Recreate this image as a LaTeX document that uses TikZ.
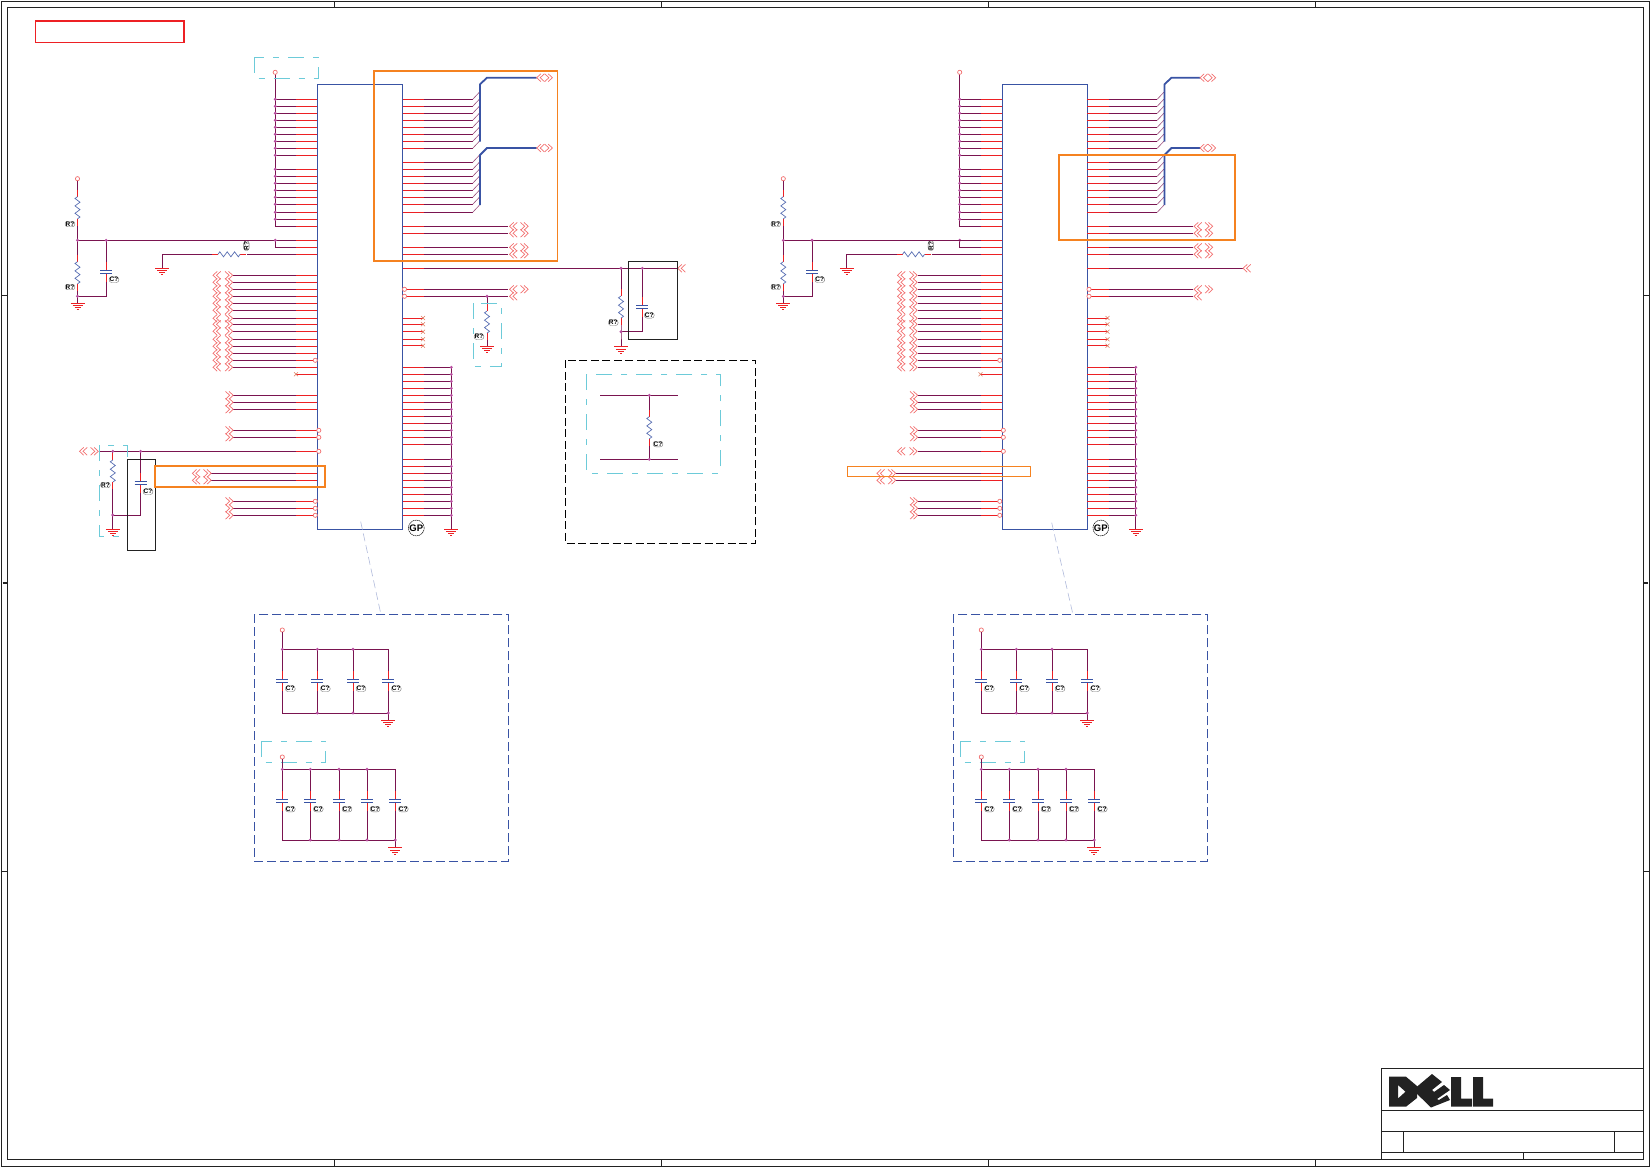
\documentclass[tikz,border=0pt]{standalone}
\usepackage{fontspec}
\setmainfont{Liberation Sans}
\definecolor{netpurple}{HTML}{7A1450}
\definecolor{pinred}{HTML}{ED2024}
\definecolor{partblue}{HTML}{3953A4}
\definecolor{noteteal}{HTML}{6DCBD9}
\definecolor{markorange}{HTML}{F58220}
\definecolor{dotpink}{HTML}{B84FA0}
\definecolor{chevpink}{HTML}{F26F6F}
\definecolor{framegrey}{HTML}{222222}
\tikzset{
  wire/.style={draw=netpurple,line width=.9pt},
  pinwire/.style={draw=pinred,line width=.9pt},
  chipbox/.style={draw=partblue,line width=.9pt,inner sep=0pt,outer sep=0pt,
    minimum width=85.1pt,minimum height=445pt},
  busline/.style={draw=partblue,line width=1.8pt},
  entry/.style={draw=netpurple!75,line width=.6pt},
  tealbox/.style={draw=noteteal,line width=.8pt,dash pattern=on 16pt off 9pt on 6pt off 9pt},
  bluebox/.style={draw=partblue,line width=.9pt,dash pattern=on 9pt off 4pt},
  blackbox/.style={draw=black,line width=.9pt,dash pattern=on 8pt off 3.5pt},
  orangebox/.style={draw=markorange,line width=1.8pt},
  tag/.style={font=\fontsize{6.5}{6.5}\selectfont\bfseries,fill=white,draw=black!55,
    line width=.4pt,rounded corners=2.5pt,inner sep=.5pt},
  gptag/.style={font=\fontsize{9.5}{9.5}\selectfont\bfseries,circle,draw=black,
    dash pattern=on 1.5pt off .6pt,line width=.5pt,inner sep=.2pt,minimum size=13pt},
  pics/gndsym/.style={code={
    \draw[pinred,line width=.8pt] (-7,0) -- (7,0) (-5,2.3) -- (5,2.3) (-3,4.2) -- (3,4.2) (-1,6.2) -- (1,6.2);
  }},
  pics/chevl/.style={code={
    \draw[chevpink,line width=.7pt] (4.2,-3.9) -- (0,0) -- (4.2,3.9) (7.7,-3.9) -- (3.5,0) -- (7.7,3.9);
  }},
  pics/chevr/.style={code={
    \draw[chevpink,line width=.7pt] (0,-3.9) -- (4.2,0) -- (0,3.9) (3.5,-3.9) -- (7.7,0) -- (3.5,3.9);
  }},
  pics/vres/.style={code={
    \draw[pinred,line width=.9pt] (0,-7) -- (0,0) (0,22) -- (0,29);
    \draw[partblue!85,line width=.7pt] (0,0) -- ++(-2.5,1.8) -- ++(5,3.7) -- ++(-5,3.7) -- ++(5,3.7)
      -- ++(-5,3.7) -- ++(5,3.7) -- ++(-2.5,1.8);
  }},
  pics/hres/.style={code={
    \draw[pinred,line width=.9pt] (-6,0) -- (0,0) (22,0) -- (28,0);
    \draw[partblue!85,line width=.7pt] (0,0) -- ++(1.8,-2.5) -- ++(3.7,5) -- ++(3.7,-5) -- ++(3.7,5)
      -- ++(3.7,-5) -- ++(3.7,5) -- ++(1.8,-2.5);
  }},
  pics/capv/.style={code={
    \draw[pinred,line width=.9pt] (0,-10) -- (0,-1.5) (0,1.5) -- (0,10);
    \draw[partblue,line width=.9pt] (-6,-1.5) -- (6,-1.5) (-6,1.5) -- (6,1.5);
  }},
}
\newcommand{\netdot}[1]{\fill[dotpink] (#1) circle (1.6);}
\newcommand{\opendot}[1]{\draw[chevpink,fill=white,line width=.7pt] (#1) circle (2.1);}
\newcommand{\ncmark}[1]{\draw[chevpink!60!brown,line width=.5pt] (#1) ++(-2,-2) -- ++(4,4) ++(-4,0) -- ++(4,-4);}
% chip, pins and rails of one half: #1 end of bus line, #2 end of long net
\newcommand{\chippart}[2]{
  \node[chipbox] (chip) at (360,306.8) {};
  \node[gptag] (gp) at (416.3,528) {GP};
  % left pins on the supply rail
  \draw[wire] (275.2,74.2) -- (275.2,226.3) -- (296,226.3);
  \opendot{275.2,72.3}
  \foreach \y in {99.3,106.3,113.3,120.3,127.3,134.3,141.3,148.3,155.3,169.3,176.3,183.3,190.3,197.3,204.3,212.3,219.3}{
    \draw[wire] (275.2,\y) -- (296,\y);
    \netdot{275.2,\y}
  }
  \foreach \y in {99.3,106.3,113.3,120.3,127.3,134.3,141.3,148.3,155.3,169.3,176.3,183.3,190.3,197.3,204.3,212.3,219.3,226.3,240.3,247.3,254.3,374.3}{
    \draw[pinwire] (296,\y) -- (chip.west |- 0,\y);
  }
  \draw[wire] (246.4,240.3) -- (296,240.3);
  \draw[wire] (275.2,240.3) -- (275.2,247.3) -- (296,247.3);
  \netdot{275.2,240.3}
  \draw[wire] (247,254.3) -- (296,254.3);
  \node[tag,rotate=90] (rs) at (246.4,245.7) {R?};
  \draw[wire] (162.4,268) -- (162.4,254.3) -- (212,254.3);
  \pic at (218,254.3) {hres};
  \pic at (162.4,268) {gndsym};
  % left pins with connectors
  \foreach \y in {275.3,282.3,289.3,296.3,303.3,310.3,318.3,324.3,331.3,339.3,346.3,353.3,360.3,367.3}{
    \draw[wire] (233,\y) -- (296,\y);
    \draw[pinwire] (296,\y) -- (chip.west |- 0,\y);
    \pic at (213,\y) {chevl};
    \pic at (225,\y) {chevr};
  }
  \foreach \y in {395.3,402.3,409.3,430.3,437.3,501.3,508.3,515.3}{
    \draw[wire] (233,\y) -- (296,\y);
    \draw[pinwire] (296,\y) -- (chip.west |- 0,\y);
    \pic at (225.5,\y) {chevr};
  }
  \foreach \y in {473.3,480.3}{
    \draw[wire] (211.4,\y) -- (296,\y);
    \draw[pinwire] (296,\y) -- (chip.west |- 0,\y);
    \pic at (192.4,\y) {chevl};
    \pic at (203.5,\y) {chevr};
  }
  \draw[wire] (233,451.3) -- (296,451.3);
  \draw[pinwire] (296,451.3) -- (chip.west |- 0,451.3);
  \foreach \y in {360.3,501.3,508.3,515.3}{ \opendot{315.3,\y} }
  \foreach \y in {430.3,437.3,451.3}{ \opendot{318.8,\y} }
  \ncmark{296,374.3}
  % right pins into the two buses
  \foreach \y in {99.3,106.3,113.3,120.3,127.3,134.3,141.3,148.3,162.3,169.3,176.3,183.3,190.3,197.3,204.3,212.3}{
    \draw[pinwire] (chip.east |- 0,\y) -- (424,\y);
    \draw[wire] (424,\y) -- (472.7,\y);
    \draw[entry] (472.7,\y) -- ++(6.6,-7);
  }
  \draw[busline] (480,141.7) -- (480,84.3) -- (487,77.7) -- (#1,77.7);
  \draw[busline] (480,205) -- (480,155) -- (487,148) -- (#1,148);
  \foreach \y in {77.7,148}{
    \pic at (#1,\y) {chevl};
    \pic at (#1+8,\y) {chevr};
  }
  % right pins with connectors
  \foreach \y in {226.3,233.3,247.3,254.3,289.3,296.3}{
    \draw[pinwire] (chip.east |- 0,\y) -- (424,\y);
    \draw[wire] (424,\y) -- (508.3,\y);
    \pic at (509.5,\y) {chevl};
  }
  \foreach \y in {226.3,233.3,247.3,254.3,289.3}{ \pic at (520.5,\y) {chevr}; }
  \foreach \y in {289.3,296.3}{ \opendot{404.5,\y} }
  \draw[pinwire] (chip.east |- 0,268.3) -- (424,268.3);
  \draw[wire] (424,268.3) -- (#2,268.3);
  \pic at (#2,268.3) {chevl};
  % not connected pins
  \foreach \y in {318,324.3,331.7,339.3,345.7}{
    \draw[pinwire] (chip.east |- 0,\y) -- (423,\y);
    \ncmark{423,\y}
  }
  % ground pins
  \draw[wire] (451.3,367.3) -- (451.3,529);
  \foreach \y in {367.3,374.3,381.3,388.3,395.3,402.3,409.3,416.3,423.3,430.3,437.3,444.3,459.3,466.3,473.3,480.3,487.3,494.3,501.3,508.3,515.3}{
    \draw[pinwire] (chip.east |- 0,\y) -- (424,\y);
    \draw[wire] (424,\y) -- (451.3,\y);
    \netdot{451.3,\y}
  }
  \pic at (451.3,529) {gndsym};
}
% divider on the reference pin
\newcommand{\dividerpart}{
  \coordinate (vref) at (77.5,178.7);
  \coordinate (rmid) at (77.5,240.3);
  \coordinate (rlow) at (77.5,296.3);
  \coordinate (cpin) at (106.2,240.3);
  \coordinate (cgnd) at (106.2,296.3);
  \opendot{vref}
  \draw[wire] (77.5,180.6) -- (77.5,190);
  \draw[wire] (77.5,225) -- (rmid) -- (77.5,255);
  \draw[wire] (77.5,290) -- (rlow) -- (77.5,303.3);
  \draw[wire] (rmid) -- (270,240.3);
  \draw[wire] (cpin) -- (106.2,262) (106.2,282) -- (cgnd) -- (rlow);
  \pic at (77.5,196.7) {vres};
  \pic at (77.5,261.7) {vres};
  \pic at (106.2,271.8) {capv};
  \pic at (77.5,303.3) {gndsym};
  \netdot{rmid}
  \netdot{rlow}
  \netdot{cpin}
  \node[tag] (ra) at (70,224) {R?};
  \node[tag] (rb) at (70,287) {R?};
  \node[tag] (ca) at (114,279.7) {C?};
}
% decoupling block below the chip
\newcommand{\capblock}{
  \draw[bluebox] (254.3,614.3) rectangle (508.3,861.3);
  \draw[tealbox] (261.7,741.3) rectangle (325.7,762.3);
  \opendot{282.3,630}
  \draw[wire] (282.3,632) -- (282.3,649.3) -- (388.3,649.3);
  \draw[wire] (282.3,713.3) -- (388.3,713.3) -- (388.3,720.3);
  \foreach \x [count=\n] in {282.3,317.3,353,388.3}{
    \draw[wire] (\x,649.3) -- (\x,671) (\x,691) -- (\x,713.3);
    \pic at (\x,680.8) {capv};
    \node[tag] (cu\n) at (\x+8,688.7) {C?};
  }
  \foreach \x in {282.3,317.3,353}{ \netdot{\x,649.3} }
  \foreach \x in {317.3,353,388.3}{ \netdot{\x,713} }
  \pic at (388.3,720.3) {gndsym};
  \opendot{282.3,757}
  \draw[wire] (282.3,759) -- (282.3,769.3) -- (395.3,769.3);
  \draw[wire] (282.3,840) -- (395.3,840) -- (395.3,847.7);
  \foreach \x [count=\n] in {282.3,310.3,339,367,395.3}{
    \draw[wire] (\x,769.3) -- (\x,791) (\x,811) -- (\x,840);
    \pic at (\x,800.8) {capv};
    \node[tag] (cv\n) at (\x+8,809) {C?};
  }
  \foreach \x in {282.3,310.3,339,367}{ \netdot{\x,769.3} }
  \foreach \x in {310.3,339,367,395.3}{ \netdot{\x,840} }
  \pic at (395.3,847.7) {gndsym};
}
\begin{document}
\begin{tikzpicture}[x=1pt,y=-1pt]
  \useasboundingbox (0,0) rectangle (1650,1167);
  % sheet frame
  \draw[framegrey,line width=1pt] (1,1) rectangle (1649,1166);
  \draw[framegrey,line width=1pt] (7.4,7.3) rectangle (1643,1159.5);
  \foreach \x in {334.6,661.4,988,1315}{
    \draw[framegrey,line width=.8pt] (\x,1) -- (\x,7.3) (\x,1159.5) -- (\x,1166);
  }
  \foreach \y in {295.7,871}{
    \draw[framegrey,line width=.8pt] (1,\y) -- (7.4,\y) (1643,\y) -- (1649,\y);
  }
  \draw[framegrey,line width=1.4pt] (2.5,583) -- (7.4,583) (1643,583) -- (1647.5,583);
  \draw[pinred,line width=1.6pt] (35.5,20.7) rectangle (184,42.3);

  % left half
  \begin{scope}[name prefix=a-]
    \chippart{536.7}{677.7}
    \dividerpart
    \capblock
  \end{scope}
  \draw[tealbox] (254.5,57.3) rectangle (318,78.3);
  \draw[orangebox] (373.7,70.7) rectangle (557.4,260.7);
  % net with the pull down and the filter
  \coordinate (nmid) at (621,268.3);
  \coordinate (nlow) at (621,331.7);
  \coordinate (cmid) at (642.3,268.3);
  \coordinate (clow) at (642.3,331.7);
  \draw[wire] (nmid) -- (621,289) (621,325) -- (nlow) -- (621,346.7);
  \draw[wire] (cmid) -- (642.3,297) (642.3,317) -- (clow) -- (nlow);
  \pic at (621,296) {vres};
  \pic at (642.3,307) {capv};
  \pic at (621,346.7) {gndsym};
  \netdot{nmid}
  \netdot{nlow}
  \netdot{cmid}
  \node[tag] (rn) at (613.3,322.7) {R?};
  \node[tag] (cn) at (649.3,315.3) {C?};
  \draw[framegrey,line width=.9pt] (628.3,261.3) rectangle (677.3,339.3);
  % pull down on the lower net
  \coordinate (pmid) at (487,296.3);
  \draw[wire] (pmid) -- (487,304) (487,335) -- (487,346);
  \pic at (487,311) {vres};
  \pic at (487,346) {gndsym};
  \netdot{pmid}
  \node[tag] (rp) at (479,336.7) {R?};
  \draw[tealbox] (473.3,303.3) rectangle (501.7,366.7);
  % detail in the dashed frame
  \draw[blackbox] (565.7,360.3) rectangle (755.7,543.3);
  \draw[tealbox] (586.3,374.3) rectangle (720.3,473.3);
  \coordinate (dtop) at (649.3,395.3);
  \coordinate (dbot) at (649.3,459.3);
  \draw[wire] (600,395.3) -- (677.7,395.3);
  \draw[wire] (600,459.3) -- (677.7,459.3);
  \draw[wire] (dtop) -- (649.3,410) (649.3,444) -- (dbot);
  \pic at (649.3,416.7) {vres};
  \netdot{dtop}
  \netdot{dbot}
  \node[tag] (rd) at (658,444) {C?};
  % reset net at the left
  \coordinate (lnet) at (100,451.3);
  \coordinate (lres) at (112.8,451.3);
  \coordinate (lcap) at (140.6,451.3);
  \coordinate (lgnd) at (112.8,515);
  \coordinate (lcgnd) at (140.6,515);
  \draw[wire] (lnet) -- (296,451.3);
  \draw[wire] (lres) -- (112.8,453) (112.8,487) -- (lgnd) -- (112.8,529.3);
  \draw[wire] (lcap) -- (140.6,473) (140.6,493) -- (lcgnd) -- (lgnd);
  \pic at (112.8,460) {vres};
  \pic at (140.6,483.3) {capv};
  \pic at (112.8,529.3) {gndsym};
  \pic at (79.5,451.3) {chevl};
  \pic at (90.6,451.3) {chevr};
  \netdot{lres}
  \netdot{lcap}
  \netdot{lgnd}
  \node[tag] (rl) at (105.4,485) {R?};
  \node[tag] (cl) at (148,491.7) {C?};
  \draw[tealbox] (99,445.3) rectangle (127.6,536.7);
  \draw[framegrey,line width=.9pt] (127.3,459.3) rectangle (155.8,550.3);
  \draw[orangebox] (154.6,466) rectangle (324.8,486.7);
  \draw[partblue!40,line width=.6pt,dash pattern=on 8pt off 4pt] (360.7,521.7) -- (380.7,613.3);

  % right half
  \begin{scope}[xshift=684.5pt,name prefix=b-]
    \chippart{515.5}{558.5}
    \pic at (213,451.3) {chevl};
    \pic at (225,451.3) {chevr};
  \end{scope}
  \begin{scope}[xshift=705.8pt,name prefix=c-]
    \dividerpart
  \end{scope}
  \begin{scope}[xshift=699pt,name prefix=d-]
    \capblock
  \end{scope}
  \draw[orangebox] (1059,155) rectangle (1235,240);
  \draw[markorange,line width=.9pt] (847.3,466.7) rectangle (1030,476.3);
  \draw[partblue!40,line width=.6pt,dash pattern=on 8pt off 4pt] (1051.7,522.7) -- (1072.7,613.3);

  % title block
  \draw[framegrey,line width=.9pt] (1381.3,1068) rectangle (1643,1159.5);
  \draw[framegrey,line width=.9pt] (1381.3,1110.7) -- (1643,1110.7);
  \draw[framegrey,line width=.9pt] (1381.3,1131) -- (1643,1131);
  \draw[framegrey,line width=.9pt] (1381.3,1152.3) -- (1643,1152.3);
  \draw[framegrey,line width=.9pt] (1403.3,1131) -- (1403.3,1152.3);
  \draw[framegrey,line width=.9pt] (1614.3,1131) -- (1614.3,1152.3);
  \draw[framegrey,line width=.9pt] (1523.3,1152.3) -- (1523.3,1159.5);
  % logo
  \fill[framegrey,even odd rule] (1389,1076.7) -- (1406,1076.7) -- (1417,1086) -- (1417,1098) -- (1406,1106.7) -- (1389,1106.7) -- cycle
    (1398,1085) -- (1398,1098.5) -- (1405.5,1091.7) -- cycle;
  \fill[framegrey] (1413,1090) -- (1432,1074) -- (1442,1082) -- (1432,1090) -- (1434,1092) -- (1444,1085) -- (1450,1090) -- (1437,1099) -- (1439,1100) -- (1447,1095) -- (1450,1100) -- (1431,1107.5) -- cycle;
  \fill[framegrey] (1451,1077) -- (1461,1077) -- (1461,1098.5) -- (1472,1098.5) -- (1472,1106.7) -- (1451,1106.7) -- cycle;
  \fill[framegrey] (1473,1077) -- (1483,1077) -- (1483,1098.5) -- (1493,1098.5) -- (1493,1106.7) -- (1473,1106.7) -- cycle;
\end{tikzpicture}
\end{document}
